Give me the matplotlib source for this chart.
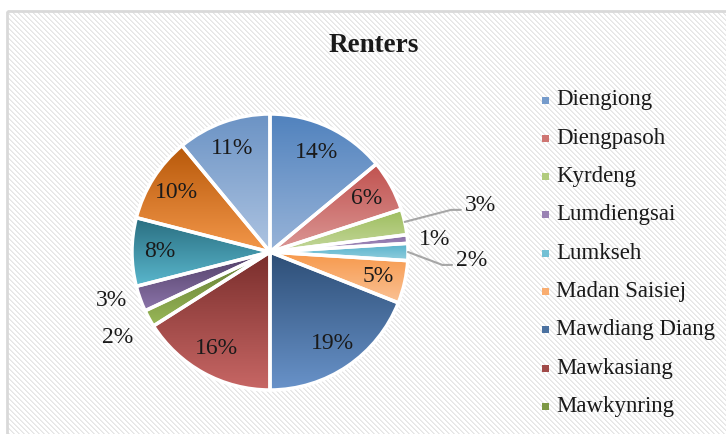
import numpy as np
import matplotlib
matplotlib.use("Agg")
import matplotlib.pyplot as plt
from matplotlib.patches import Rectangle
from matplotlib.colors import to_rgb

# ---- data -------------------------------------------------------------
title = "Renters"
legend_names = ["Diengiong", "Diengpasoh", "Kyrdeng", "Lumdiengsai", "Lumkseh",
                "Madan Saisiej", "Mawdiang Diang", "Mawkasiang", "Mawkynring"]
shares = [14, 6, 3, 1, 2, 5, 19, 16, 2, 3, 8, 10, 11]

# gradient fill per slice: colour at the top of the slice -> colour at its bottom
top_colors = ["#4F81BD", "#C0504D", "#9BBB59", "#8064A2", "#4BACC6", "#F79646",
              "#2C4D75", "#772C2A", "#5F7530", "#4D3B62", "#276A7C", "#B65708",
              "#6A92C4"]
bottom_colors = ["#9AB5D9", "#DC9A98", "#C7DAA0", "#B3A2C7", "#9BD3E2", "#FAC49A",
                 "#6A94CB", "#C96866", "#9BBB59", "#8F78AE", "#5CBAD0", "#F5994C",
                 "#AFC5E2"]

# ---- figure -----------------------------------------------------------
W, H, DPI = 726, 434, 100
plt.rcParams["font.family"] = ["Liberation Serif", "DejaVu Serif"]
fig = plt.figure(figsize=(W / DPI, H / DPI), dpi=DPI)
fig.patch.set_facecolor("white")

# striped chart-area background with a light grey frame
bg = fig.add_axes([0, 0, 1, 1], zorder=-10)
yy, xx = np.mgrid[0:H, 0:W]
tex = np.ones((H, W, 3))
phase = (xx - yy) % 5
stripe = np.where(phase == 0, 0.90, np.where(phase == 1, 0.93, 1.0))
inside = (xx >= 8) & (yy >= 12)
tex[inside] = stripe[inside][:, None]
bg.imshow(tex, extent=(0, W, H, 0), aspect="auto", interpolation="bilinear")
bg.add_patch(Rectangle((7, 11), W, H, fill=False, edgecolor="#D9D9D9", linewidth=2))
bg.set_xlim(0, W)
bg.set_ylim(H, 0)
bg.axis("off")

# pie axes: centre (270, 252) px, radius 138 px
R = 138.0
cx, cy = 270, 252
half = 200
ax = fig.add_axes([(cx - half) / W, (H - cy - half) / H, 2 * half / W, 2 * half / H])
wedges, _ = ax.pie(shares, startangle=90, counterclock=False, radius=1.0,
                   wedgeprops=dict(facecolor="none", edgecolor="white", linewidth=2.5))

for w, c_top, c_bot in zip(wedges, top_colors, bottom_colors):
    w.set_zorder(3)
    t = np.radians(np.linspace(w.theta1, w.theta2, 100))
    xs = np.concatenate([[0], np.cos(t)])
    ys = np.concatenate([[0], np.sin(t)])
    y0, y1 = ys.min(), ys.max()
    n = 128
    f = np.linspace(0, 1, n)[:, None]
    grad = (1 - f) * np.array(to_rgb(c_top)) + f * np.array(to_rgb(c_bot))
    img = ax.imshow(grad[:, None, :], extent=(-1.05, 1.05, y0 - 0.02, y1 + 0.02),
                    origin="upper", aspect="auto", interpolation="bilinear", zorder=1)
    img.set_clip_path(w)

lim = half / R
ax.set_xlim(-lim, lim)
ax.set_ylim(-lim, lim)
ax.axis("off")

# label placement: (radius, angle shift in degrees, leader line)
label_style = {2: (1.56, 0.0, True), 3: (1.20, -0.9, False), 4: (1.46, -2.3, True),
               8: (1.27, 0.5, False), 9: (1.20, -2.8, False)}
for i, (w, v) in enumerate(zip(wedges, shares)):
    mid = (w.theta1 + w.theta2) / 2
    r, dth, leader = label_style.get(i, (0.80, 0.0, False))
    a = np.radians(mid + dth)
    tx, ty = r * np.cos(a), r * np.sin(a)
    ax.text(tx, ty, f"{v}%", ha="center", va="center", fontsize=17,
            color="#1A1A1A", zorder=5)
    if leader:
        am = np.radians(mid)
        sx, sy = np.cos(am), np.sin(am)
        ly = ty - 0.035
        ax.plot([sx, tx - 0.21, tx - 0.14], [sy, ly, ly], color="#A6A6A6",
                linewidth=1.5, zorder=4, solid_capstyle="round")

# title
fig.text(374 / W, 1 - 46 / H, title, ha="center", va="center",
         fontsize=19.5, fontweight="bold", color="#1A1A1A")

# legend (entries that fit in the chart area)
for i, name in enumerate(legend_names):
    yc = 100 + i * 38.3
    col = tuple((np.array(to_rgb(top_colors[i])) + np.array(to_rgb(bottom_colors[i]))) / 2)
    fig.patches.append(Rectangle((542 / W, 1 - (yc + 3.5) / H), 7 / W, 7 / H,
                                 transform=fig.transFigure, facecolor=col,
                                 edgecolor="none", figure=fig))
    fig.text(556 / W, 1 - yc / H, name, ha="left", va="center",
             fontsize=16.5, color="#1A1A1A")

fig.savefig("out.png", dpi=DPI, facecolor="white")
